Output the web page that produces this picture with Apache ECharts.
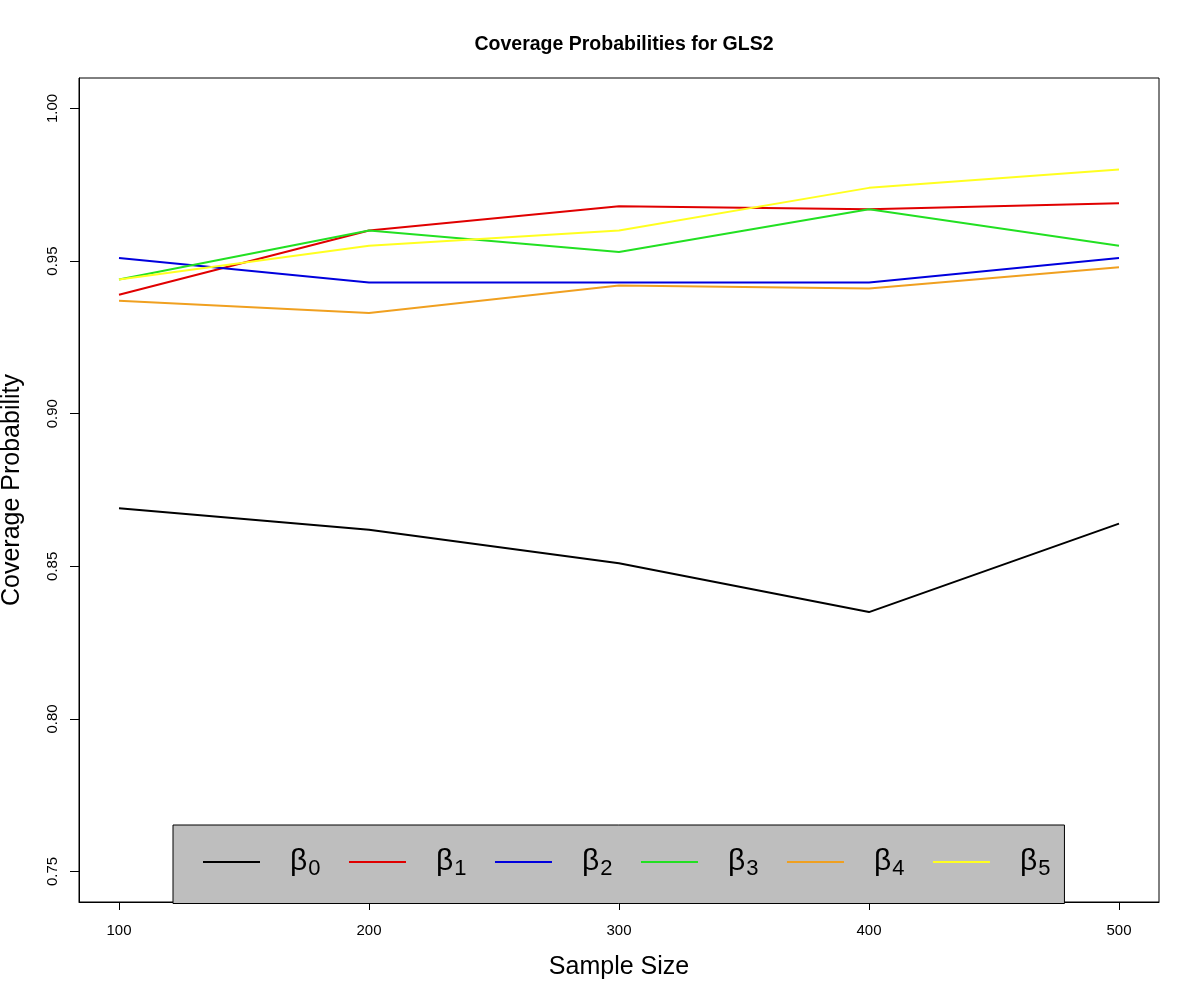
<!DOCTYPE html>
<html>
<head>
<meta charset="utf-8">
<script src="https://cdn.jsdelivr.net/npm/echarts@6/dist/echarts.min.js"></script>
<style>
  html, body { margin: 0; padding: 0; background: #fff; }
  #chart { width: 1200px; height: 1000px; }
</style>
</head>
<body>
<div id="chart"></div>
<script>
(function () {
    // sample sizes on the x axis
    var sampleSizes = [100, 200, 300, 400, 500];
    var xTicks = [100, 200, 300, 400, 500];
    var yTicks = [0.75, 0.80, 0.85, 0.90, 0.95, 1.00];

    // coverage probabilities
    var beta0 = [0.869, 0.862, 0.851, 0.835, 0.864];
    var beta1 = [0.939, 0.960, 0.968, 0.967, 0.969];
    var beta2 = [0.951, 0.943, 0.943, 0.943, 0.951];
    var beta3 = [0.944, 0.960, 0.953, 0.967, 0.955];
    var beta4 = [0.937, 0.933, 0.942, 0.941, 0.948];
    var beta5 = [0.944, 0.955, 0.960, 0.974, 0.980];

    var seriesNames = ['β0', 'β1', 'β2', 'β3', 'β4', 'β5'];
    var seriesValues = [beta0, beta1, beta2, beta3, beta4, beta5];
    var colors = ['#000000', '#e00000', '#0000dd', '#22e022', '#f0a020', '#ffff20'];

    var font = 'Arial, "Liberation Sans", sans-serif';

    var toPairs = function (values) {
        return values.map(function (v, i) { return [sampleSizes[i], v]; });
    };

    var series = seriesNames.map(function (name, i) {
        return {
            name: name,
            type: 'line',
            data: toPairs(seriesValues[i]),
            symbol: 'none',
            color: colors[i],
            lineStyle: { width: 2, color: colors[i] },
            z: 2
        };
    });

    var chart = echarts.init(document.getElementById('chart'));
    chart.setOption({
        animation: false,
        backgroundColor: '#fff',
        title: {
            text: 'Coverage Probabilities for GLS2',
            left: 619,
            textAlign: 'center',
            top: 30,
            textStyle: { fontFamily: font, fontSize: 19.5, fontWeight: 'bold', color: '#000' }
        },
        grid: {
            left: 79, right: 41, top: 78, bottom: 98,
            outerBoundsMode: 'none',
            containLabel: false,
            show: true, borderColor: '#000', borderWidth: 1, backgroundColor: 'transparent'
        },
        legend: {
            left: 173,
            top: 825,
            orient: 'horizontal',
            backgroundColor: '#bebebe',
            borderColor: '#000',
            borderWidth: 1,
            borderRadius: 0,
            padding: [22, 14, 24, 30],
            itemGap: 28.5,
            itemWidth: 57,
            itemHeight: 2,
            icon: 'rect',
            data: seriesNames,
            formatter: function (name) {
                return '{b|β}{s|' + name.slice(1) + '}';
            },
            textStyle: {
                fontFamily: font,
                color: '#000',
                padding: [0, 0, 0, 25],
                rich: {
                    b: { fontFamily: font, fontSize: 30, color: '#000' },
                    s: { fontFamily: font, fontSize: 22, color: '#000', padding: [13, 0, 0, 1] }
                }
            },
            z: 5
        },
        xAxis: {
            type: 'value',
            min: 84,
            max: 516,
            name: 'Sample Size',
            nameLocation: 'middle',
            nameGap: 53,
            nameTextStyle: { fontFamily: font, fontSize: 25, color: '#000' },
            axisLine: { show: true, lineStyle: { color: '#000', width: 1 } },
            axisTick: { show: true, length: 8, customValues: xTicks, lineStyle: { color: '#000' } },
            axisLabel: {
                customValues: xTicks,
                margin: 21,
                fontFamily: font, fontSize: 15, color: '#000'
            },
            splitLine: { show: false }
        },
        yAxis: {
            type: 'value',
            min: 0.74,
            max: 1.01,
            name: 'Coverage Probability',
            nameLocation: 'middle',
            nameGap: 54,
            nameTextStyle: { fontFamily: font, fontSize: 25, color: '#000' },
            axisLine: { show: true, lineStyle: { color: '#000', width: 1 } },
            axisTick: { show: true, length: 9, customValues: yTicks, lineStyle: { color: '#000' } },
            axisLabel: {
                customValues: yTicks,
                rotate: 90,
                margin: 19,
                fontFamily: font, fontSize: 15, color: '#000',
                formatter: function (v) { return v.toFixed(2); }
            },
            splitLine: { show: false }
        },
        series: series
    });
})();
</script>
</body>
</html>
